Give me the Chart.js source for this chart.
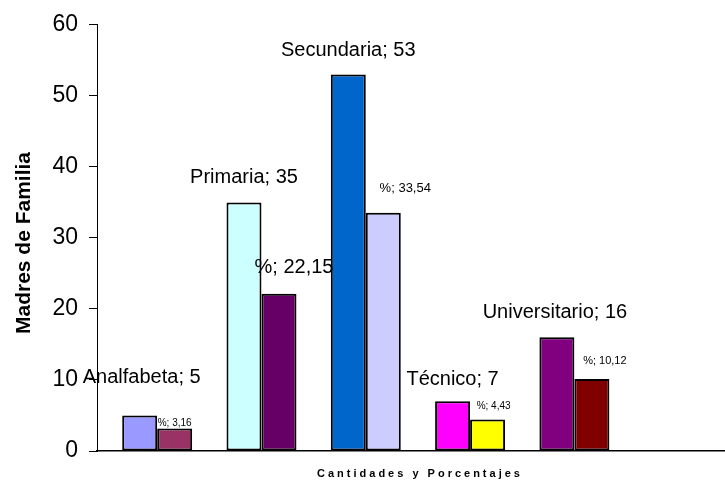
<!DOCTYPE html>
<html>
<head>
<meta charset="utf-8">
<script src="https://cdn.jsdelivr.net/npm/chart.js@4.4.1/dist/chart.umd.min.js"></script>
<style>
  html, body { margin: 0; padding: 0; background: #ffffff; }
  #wrap { width: 725px; height: 483px; }
</style>
</head>
<body>
<div id="wrap"><canvas id="c" width="725" height="483"></canvas></div>
<script>
// ---- data ----
const categories = ['Analfabeta', 'Primaria', 'Secundaria', 'Técnico', 'Universitario'];
const cantidades = [5, 35, 53, 7, 16];
const porcentajes = [3.16, 22.15, 33.54, 4.43, 10.12];
const yTicks = [0, 10, 20, 30, 40, 50, 60];
const yTitle = 'Madres de Familia';
const xTitle = 'Cantidades y Porcentajes';

// ---- styles ----
const colorsCant = ['#9999FF', '#CCFFFF', '#0066CC', '#FF00FF', '#800080'];
const colorsPct  = ['#993366', '#660066', '#CCCCFF', '#FFFF00', '#800000'];
const FONT = '"Liberation Sans", Arial, sans-serif';
// label placement relative to bar top (dx, baseline rise) and size
const labCant = { dx: [2, 0, 0, 0, -2], rise: [32, 19, 19, 16, 19], size: [20, 20, 20, 20, 20] };
const labPct  = { dx: [0, 15, 22, 6, 13], rise: [3, 21, 21, 11, 15], size: [10, 20, 13, 10, 11] };

const fmt = v => String(v.toFixed(2)).replace('.', ',');

const labelPlugin = {
  id: 'barLabels',
  afterDatasetsDraw(chart) {
    const ctx = chart.ctx;
    ctx.save();
    ctx.fillStyle = '#000';
    ctx.textAlign = 'center';
    ctx.textBaseline = 'alphabetic';
    chart.getDatasetMeta(0).data.forEach((bar, i) => {
      ctx.font = labCant.size[i] + 'px ' + FONT;
      ctx.fillText(categories[i] + '; ' + cantidades[i], bar.x + labCant.dx[i], bar.y - labCant.rise[i]);
    });
    chart.getDatasetMeta(1).data.forEach((bar, i) => {
      ctx.font = labPct.size[i] + 'px ' + FONT;
      ctx.fillText('%; ' + fmt(porcentajes[i]), bar.x + labPct.dx[i], bar.y - labPct.rise[i]);
    });
    ctx.restore();
  }
};

const titlePlugin = {
  id: 'axisTitles',
  afterDraw(chart) {
    const ctx = chart.ctx;
    const a = chart.chartArea;
    ctx.save();
    ctx.fillStyle = '#000';
    // y title
    ctx.font = 'bold 21px ' + FONT;
    ctx.translate(24, 243);
    ctx.rotate(-Math.PI / 2);
    ctx.textAlign = 'center';
    ctx.textBaseline = 'middle';
    ctx.fillText(yTitle, 0, 0);
    ctx.restore();
    // x title
    ctx.save();
    ctx.fillStyle = '#000';
    ctx.font = 'bold 11px ' + FONT;
    try { ctx.letterSpacing = '3px'; } catch (e) {}
    ctx.textAlign = 'center';
    ctx.textBaseline = 'alphabetic';
    ctx.fillText(xTitle, (a.left + a.right) / 2 + 9, 477);
    ctx.restore();
  }
};

const ctx = document.getElementById('c').getContext('2d');
new Chart(ctx, {
  type: 'bar',
  data: {
    datasets: [
      {
        label: 'Cantidades',
        data: categories.map((c, i) => ({ x: i, y: cantidades[i] })),
        backgroundColor: colorsCant,
        borderColor: '#000',
        borderWidth: 2,
        borderSkipped: false
      },
      {
        label: 'Porcentajes',
        data: categories.map((c, i) => ({ x: i, y: porcentajes[i] })),
        backgroundColor: colorsPct,
        borderColor: '#000',
        borderWidth: 2,
        borderSkipped: false
      }
    ]
  },
  options: {
    responsive: false,
    animation: false,
    events: [],
    categoryPercentage: 0.671,
    barPercentage: 1,
    layout: { padding: { top: 21, left: 0, right: 0, bottom: 0 } },
    plugins: { legend: { display: false }, tooltip: { enabled: false } },
    scales: {
      x: {
        type: 'linear',
        min: -0.577,
        max: 5.444,
        offset: false,
        grid: { display: false },
        border: { display: true, color: '#000', width: 1.5 },
        ticks: { display: false },
        afterFit(s) { s.height = 32; }
      },
      y: {
        min: 0,
        max: 60,
        afterBuildTicks(s) { s.ticks = yTicks.map(v => ({ value: v })); },
        grid: { drawOnChartArea: false, drawTicks: true, tickLength: 8, color: '#000', lineWidth: 1 },
        border: { display: true, color: '#000', width: 1 },
        ticks: { color: '#000', padding: 11, font: { family: FONT, size: 23 } },
        afterFit(s) { s.width = 97; }
      }
    }
  },
  plugins: [labelPlugin, titlePlugin]
});
</script>
</body>
</html>
